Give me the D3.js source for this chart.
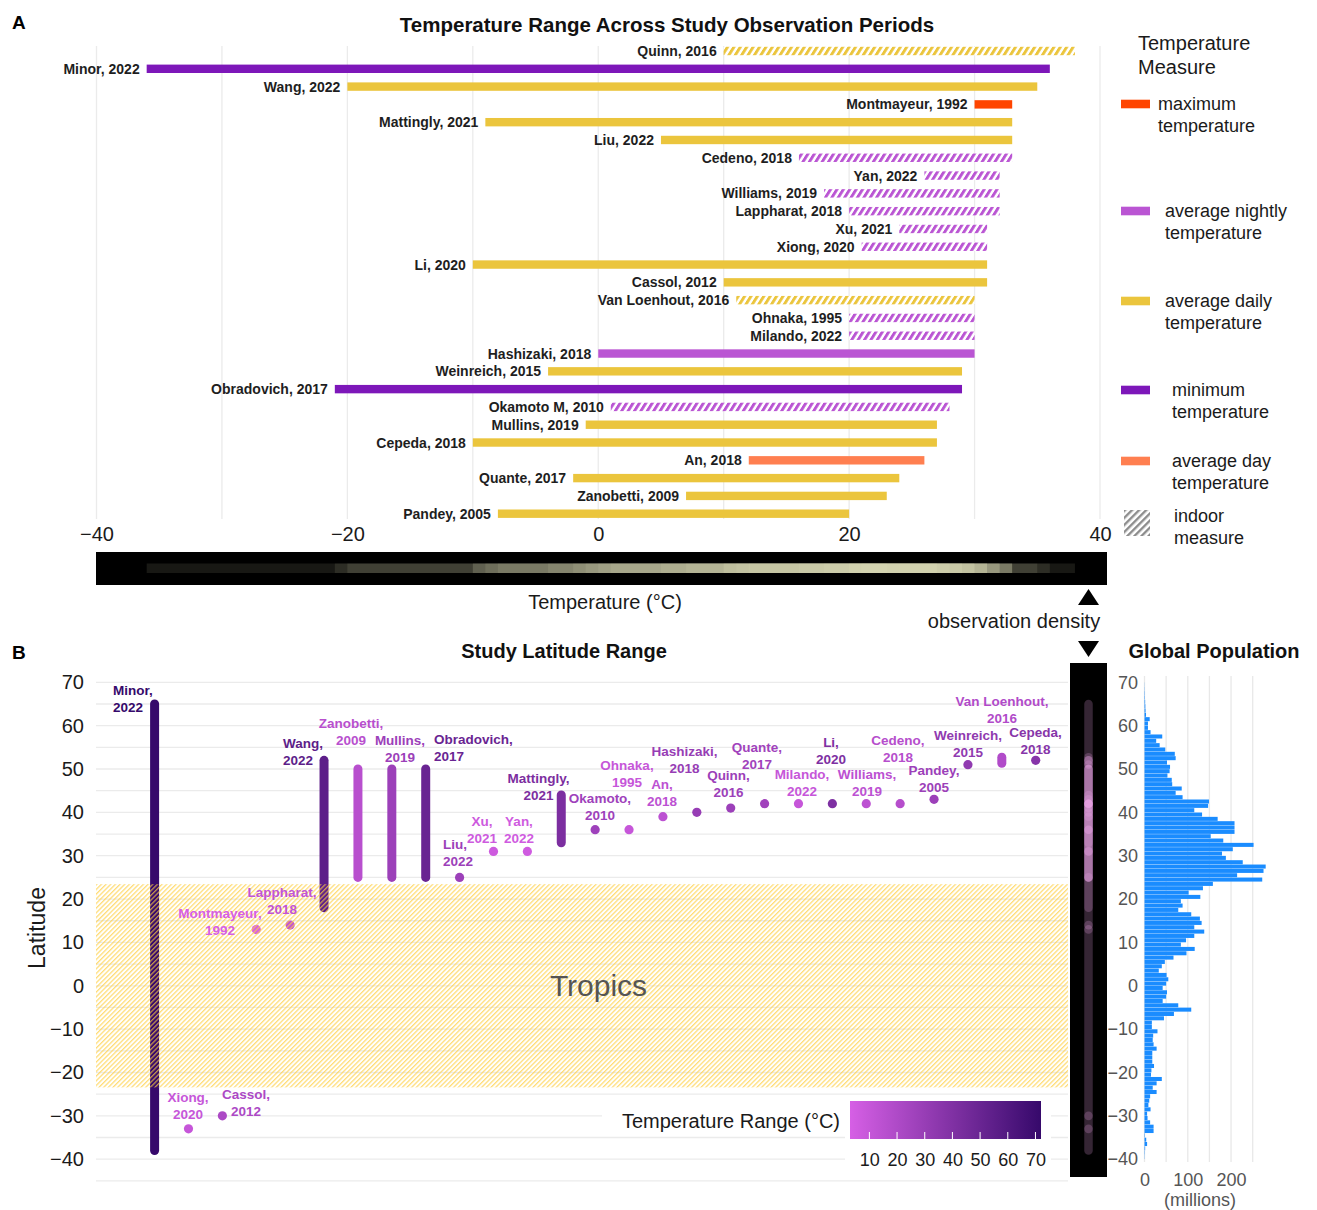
<!DOCTYPE html>
<html><head><meta charset="utf-8">
<script src="https://cdn.jsdelivr.net/npm/d3@7/dist/d3.min.js"></script>
<style>
html,body{margin:0;padding:0;background:#fff}
svg{display:block}
text{font-family:"Liberation Sans",Arial,Helvetica,sans-serif}
</style></head><body>
<svg id="chart" width="1317" height="1210"></svg>
<script>
// ---------------- DATA ----------------
const authors = ["Quinn","Minor","Wang","Montmayeur","Mattingly","Liu","Cedeno","Yan","Williams","Lappharat","Xu","Xiong","Li","Cassol","Van Loenhout","Ohnaka","Milando","Hashizaki","Weinreich","Obradovich","Okamoto M","Mullins","Cepeda","An","Quante","Zanobetti","Pandey"];
const years = [2016,2022,2022,1992,2021,2022,2018,2022,2019,2018,2021,2020,2020,2012,2016,1995,2022,2018,2015,2017,2010,2019,2018,2018,2017,2009,2005];
const tempMin = [10,-36,-20,30,-9,5,16,26,18,20,24,21,-10,10,11,20,20,0,-4,-21,1,-1,-10,12,-2,7,-8];
const tempMax = [38,36,35,33,33,33,33,32,32,32,31,31,31,31,30,30,30,30,29,29,28,27,27,26,24,23,20];
const measure = ["daily","minimum","daily","maximum","daily","daily","nightly","nightly","nightly","nightly","nightly","nightly","daily","daily","daily","nightly","nightly","nightly","daily","minimum","nightly","daily","daily","day","daily","daily","daily"];
const indoor = [true,false,false,false,false,false,true,true,true,true,true,true,false,false,true,true,true,false,false,false,true,false,false,false,false,false,false];
const latMin = [41,-38,18,13,33,25,42,31,42,14,31,-33,42,-30,51.3,36,42,40,51,25,36,25,52,39,42,25,43];
const latMax = [41,65,52,13,44,25,42,31,42,14,31,-33,42,-30,52.7,36,42,40,51,50,36,50,52,39,42,50,43];
const latOrder = ["Minor","Xiong","Cassol","Montmayeur","Lappharat","Wang","Zanobetti","Mullins","Obradovich","Liu","Xu","Yan","Mattingly","Okamoto M","Ohnaka","An","Hashizaki","Quinn","Quante","Milando","Li","Williams","Cedeno","Pandey","Weinreich","Van Loenhout","Cepeda"];
const measureKeys = ["maximum","nightly","daily","minimum","day"];
const measureNames = [["maximum","temperature"],["average nightly","temperature"],["average daily","temperature"],["minimum","temperature"],["average day","temperature"]];
const tempTicks = [-40,-20,0,20,40];
const tempGrid = [-40,-30,-20,-10,0,10,20,30,40];
const latTicks = [70,60,50,40,30,20,10,0,-10,-20,-30,-40];
const rangeTicks = [10,20,30,40,50,60,70];
const popTicks = [0,100,200];
const popGrid = [0,50,100,150,200,250];
const popLat = [69,68,67,66,65,64,63,62,61,60,59,58,57,56,55,54,53,52,51,50,49,48,47,46,45,44,43,42,41,40,39,38,37,36,35,34,33,32,31,30,29,28,27,26,25,24,23,22,21,20,19,18,17,16,15,14,13,12,11,10,9,8,7,6,5,4,3,2,1,0,-1,-2,-3,-4,-5,-6,-7,-8,-9,-10,-11,-12,-13,-14,-15,-16,-17,-18,-19,-20,-21,-22,-23,-24,-25,-26,-27,-28,-29,-30,-31,-32,-33,-34,-35,-36,-37,-38,-39,-40];
const popMillions = [0.3,0.5,0.8,1,1.5,2,2.5,3.5,12,8,8,14,41,27,35,48,70,72,52,59,58,53,63,64,86,72,88,149,147,115,133,169,208,208,208,153,182,252,204,179,188,227,280,275,214,272,158,135,102,129,84,88,78,108,128,132,115,138,115,96,84,116,97,67,47,40,33,51,55,50,42,52,50,42,78,108,68,45,17,17,30,20,19,21,28,18,18,18,22,16,15,40,28,19,28,13,11,9,14,6,7,13,21,21,1,4,6,1.5,0.8,0.5];

// ---------------- STYLE / LAYOUT ----------------
const colors = {maximum:"#ff4500",nightly:"#ba55d3",daily:"#ebc53d",minimum:"#7d17b9",day:"#ff7f50"};
const labB = {
 "Minor":[113,690,"start"],"Xiong":[188,1097,"middle"],"Cassol":[246,1094,"middle"],
 "Montmayeur":[220,912.5,"middle"],"Lappharat":[282,891.5,"middle"],"Wang":[283,742.5,"start"],
 "Zanobetti":[351,722.5,"middle"],"Mullins":[400,739.5,"middle"],"Obradovich":[434,739,"start"],
 "Liu":[443,843.5,"start"],"Xu":[482,821,"middle"],"Yan":[519,821,"middle"],
 "Mattingly":[538.5,777.5,"middle"],"Okamoto M":[600,797.5,"middle"],"Ohnaka":[627,765,"middle"],
 "An":[662,784,"middle"],"Hashizaki":[684.5,750.5,"middle"],"Quinn":[728.5,775,"middle"],
 "Quante":[757,746.5,"middle"],"Milando":[802,773.5,"middle"],"Li":[831,741.5,"middle"],
 "Williams":[867,773.5,"middle"],"Cedeno":[898,739.5,"middle"],"Pandey":[934,770,"middle"],
 "Weinreich":[968,734.5,"middle"],"Van Loenhout":[1002,701,"middle"],"Cepeda":[1035.6,731.5,"middle"]
};
const fmt = d => d < 0 ? "\u2212" + Math.abs(d) : String(d);

const rows = authors.map((a,i)=>({a, year:years[i], label:a+", "+years[i], min:tempMin[i], max:tempMax[i],
  m:measure[i], indoor:indoor[i], lmin:latMin[i], lmax:latMax[i], range:tempMax[i]-tempMin[i]}));
const byName = new Map(rows.map(r=>[r.a,r]));

const svg = d3.select("#chart");
const defs = svg.append("defs");
function hatch(id,color,period,stripe,transform){
  const p = defs.append("pattern").attr("id",id).attr("patternUnits","userSpaceOnUse")
    .attr("width",period).attr("height",40).attr("patternTransform",transform);
  p.append("rect").attr("width",period).attr("height",40).attr("fill","#fff");
  p.append("rect").attr("width",stripe).attr("height",40).attr("fill",color);
}
measureKeys.forEach(k=>hatch("h-"+k,colors[k],6.4,3.4,"skewX(-32)"));
hatch("h-legend","#8c8c8c",5,2.4,"rotate(45)");
(function(){
  const p = defs.append("pattern").attr("id","h-tropics").attr("patternUnits","userSpaceOnUse")
    .attr("width",3.3).attr("height",40).attr("patternTransform","rotate(45)");
  p.append("rect").attr("width",1.3).attr("height",40).attr("fill","#ffcf40").attr("opacity",0.7);
})();

// ---------------- PANEL A ----------------
svg.append("text").attr("x",12).attr("y",29).attr("font-size",19).attr("font-weight","bold").text("A");
svg.append("text").attr("x",667).attr("y",32).attr("text-anchor","middle").attr("font-size",20.5).attr("font-weight","bold").attr("fill","#111")
  .text("Temperature Range Across Study Observation Periods");

const xA = d3.scaleLinear().domain([-40,40]).range([96.5,1100]);
const yA = d3.scalePoint().domain(authors).range([51,513.7]);

svg.append("g").selectAll("line").data(tempGrid).join("line")
  .attr("x1",d=>xA(d)).attr("x2",d=>xA(d)).attr("y1",46).attr("y2",519)
  .attr("stroke","#ebebeb").attr("stroke-width",1.3);

const gA = svg.append("g");
gA.selectAll("rect").data(rows).join("rect")
  .attr("x",d=>xA(d.min)).attr("y",d=>yA(d.a)-4.2)
  .attr("width",d=>xA(d.max)-xA(d.min)).attr("height",8.4)
  .attr("fill",d=>d.indoor?`url(#h-${d.m})`:colors[d.m]);
gA.selectAll("text").data(rows).join("text")
  .attr("x",d=>xA(d.min)-7).attr("y",d=>yA(d.a)+5).attr("text-anchor","end")
  .attr("font-size",14).attr("font-weight","bold").attr("fill","#1e1e1e").text(d=>d.label);

const axA = svg.append("g").attr("transform","translate(0,527)")
  .call(d3.axisBottom(xA).tickValues(tempTicks).tickSize(0).tickPadding(0).tickFormat(fmt));
axA.select(".domain").remove();
axA.selectAll("text").attr("font-size",20).attr("fill","#1a1a1a").attr("font-family",'"Liberation Sans",Arial,sans-serif');

// density strip (overlapping translucent study ranges)
svg.append("rect").attr("x",96).attr("y",552).attr("width",1011).attr("height",33).attr("fill","#000");
svg.append("g").selectAll("rect").data(rows).join("rect")
  .attr("x",d=>xA(d.min)).attr("width",d=>xA(d.max)-xA(d.min)).attr("y",563.5).attr("height",9.5)
  .attr("fill","#e9edc9").attr("opacity",0.1);
svg.append("text").attr("x",605).attr("y",609).attr("text-anchor","middle").attr("font-size",20).attr("fill","#1a1a1a").text("Temperature (\u00b0C)");
svg.append("path").attr("d","M1078,605 L1099,605 L1088.5,589 Z").attr("fill","#000");
svg.append("text").attr("x",1014).attr("y",628).attr("text-anchor","middle").attr("font-size",20).attr("fill","#1a1a1a").text("observation density");
svg.append("path").attr("d","M1078,641 L1099,641 L1088.5,657 Z").attr("fill","#000");

// legend A
svg.append("text").attr("x",1138).attr("y",50).attr("font-size",20).attr("fill","#1a1a1a").text("Temperature");
svg.append("text").attr("x",1138).attr("y",74).attr("font-size",20).attr("fill","#1a1a1a").text("Measure");
const legY = [104,211,301,390,461];
const legTX = [1158,1165,1165,1172,1172];
measureKeys.forEach((k,i)=>{
  svg.append("rect").attr("x",1121).attr("y",legY[i]-4.3).attr("width",29).attr("height",8.6).attr("fill",colors[k]);
  measureNames[i].forEach((t,j)=>svg.append("text").attr("x",legTX[i]).attr("y",legY[i]+6+j*22)
    .attr("font-size",18).attr("fill","#1a1a1a").text(t));
});
svg.append("rect").attr("x",1124).attr("y",510).attr("width",26).attr("height",26).attr("fill","url(#h-legend)");
svg.append("text").attr("x",1174).attr("y",522).attr("font-size",18).attr("fill","#1a1a1a").text("indoor");
svg.append("text").attr("x",1174).attr("y",544).attr("font-size",18).attr("fill","#1a1a1a").text("measure");

// ---------------- PANEL B ----------------
svg.append("text").attr("x",12).attr("y",659).attr("font-size",19).attr("font-weight","bold").text("B");
svg.append("text").attr("x",564).attr("y",658).attr("text-anchor","middle").attr("font-size",20).attr("font-weight","bold").attr("fill","#111").text("Study Latitude Range");

const xB = d3.scalePoint().domain(latOrder).range([154.6,1035.7]);
const yB = d3.scaleLinear().domain([-40,70]).range([1159.2,682.3]);
const cB = d3.scaleLinear().domain([3,72]).range(["#d65fe5","#36096b"]);
const rowsB = latOrder.map(n=>byName.get(n));

svg.append("g").selectAll("line").data(d3.range(-45,71,5)).join("line")
  .attr("x1",96).attr("x2",1068).attr("y1",d=>yB(d)).attr("y2",d=>yB(d))
  .attr("stroke","#ebebeb").attr("stroke-width",1.3);

const axB = svg.append("g").attr("transform","translate(84,0)")
  .call(d3.axisLeft(yB).tickValues(latTicks).tickSize(0).tickPadding(0).tickFormat(fmt));
axB.select(".domain").remove();
axB.selectAll("text").attr("font-size",20).attr("fill","#1a1a1a").attr("font-family",'"Liberation Sans",Arial,sans-serif');
svg.append("text").attr("transform","translate(45,928) rotate(-90)").attr("text-anchor","middle").attr("font-size",23).attr("fill","#1a1a1a").text("Latitude");

const gB = svg.append("g");
gB.selectAll("line").data(rowsB.filter(d=>d.lmin!==d.lmax)).join("line")
  .attr("x1",d=>xB(d.a)).attr("x2",d=>xB(d.a)).attr("y1",d=>yB(d.lmin)).attr("y2",d=>yB(d.lmax))
  .attr("stroke",d=>cB(d.range)).attr("stroke-width",9).attr("stroke-linecap","round");
gB.selectAll("circle").data(rowsB.filter(d=>d.lmin===d.lmax)).join("circle")
  .attr("cx",d=>xB(d.a)).attr("cy",d=>yB(d.lmin)).attr("r",4.6).attr("fill",d=>cB(d.range));

// tropics band
svg.append("rect").attr("x",96).attr("y",yB(23.44)).attr("width",972).attr("height",yB(-23.44)-yB(23.44)).attr("fill","url(#h-tropics)");
svg.append("text").attr("x",598.5).attr("y",996).attr("text-anchor","middle").attr("font-size",30).attr("fill","#555").text("Tropics");

// labels
const gL = svg.append("g");
rowsB.forEach(d=>{
  const L = labB[d.a];
  const nm = d.a.replace(/ M$/,"");
  const t = gL.append("text").attr("x",L[0]).attr("y",L[1]+5).attr("text-anchor",L[2])
    .attr("font-size",13.5).attr("font-weight","bold").attr("fill",cB(d.range));
  t.append("tspan").attr("x",L[0]).text(nm+",");
  t.append("tspan").attr("x",L[0]).attr("dy",17).text(d.year);
});

// colour bar legend
svg.append("rect").attr("x",602).attr("y",1101).attr("width",244).attr("height",33).attr("fill","#fff");
svg.append("rect").attr("x",845).attr("y",1096).attr("width",206).attr("height",80).attr("fill","#fff");
svg.append("text").attr("x",840).attr("y",1128).attr("text-anchor","end").attr("font-size",20).attr("fill","#1a1a1a").text("Temperature Range (\u00b0C)");
const cbX = d3.scaleLinear().domain([3,72]).range([850,1041]);
const grad = defs.append("linearGradient").attr("id","cbgrad");
[0,0.25,0.5,0.75,1].forEach(f=>grad.append("stop").attr("offset",f).attr("stop-color",cB(3+69*f)));
svg.append("rect").attr("x",850).attr("y",1101).attr("width",191).attr("height",38).attr("fill","url(#cbgrad)");
svg.append("g").selectAll("line").data(rangeTicks).join("line")
  .attr("x1",d=>cbX(d)).attr("x2",d=>cbX(d)).attr("y1",1132).attr("y2",1139).attr("stroke","#fff").attr("stroke-width",1);
const axC = svg.append("g").attr("transform","translate(0,1153)")
  .call(d3.axisBottom(cbX).tickValues(rangeTicks).tickSize(0).tickPadding(0));
axC.select(".domain").remove();
axC.selectAll("text").attr("font-size",18).attr("fill","#1a1a1a").attr("font-family",'"Liberation Sans",Arial,sans-serif');

// latitude density strip
svg.append("rect").attr("x",1070).attr("y",663).attr("width",37).attr("height",514).attr("fill","#000");
const gS = svg.append("g");
gS.selectAll("line").data(rowsB.filter(d=>d.lmin!==d.lmax)).join("line")
  .attr("x1",1088.5).attr("x2",1088.5).attr("y1",d=>yB(d.lmin)).attr("y2",d=>yB(d.lmax))
  .attr("stroke","#f0a8ee").attr("stroke-opacity",0.22).attr("stroke-width",8.5).attr("stroke-linecap","round");
gS.selectAll("circle").data(rowsB.filter(d=>d.lmin===d.lmax)).join("circle")
  .attr("cx",1088.5).attr("cy",d=>yB(d.lmin)).attr("r",4.3).attr("fill","#f0a8ee").attr("fill-opacity",0.22);

// ---------------- GLOBAL POPULATION ----------------
svg.append("text").attr("x",1214).attr("y",658).attr("text-anchor","middle").attr("font-size",20).attr("font-weight","bold").attr("fill","#111").text("Global Population");
const xH = d3.scaleLinear().domain([0,250]).range([1144.5,1252.7]);
svg.append("g").selectAll("line").data(popGrid).join("line")
  .attr("x1",d=>xH(d)).attr("x2",d=>xH(d)).attr("y1",676).attr("y2",1162)
  .attr("stroke","#e8e8e8").attr("stroke-width",1.3);
svg.append("g").selectAll("rect").data(popLat.map((l,i)=>({l,v:popMillions[i]}))).join("rect")
  .attr("x",xH(0)).attr("y",d=>yB(d.l+1)+0.15).attr("height",d=>yB(d.l)-yB(d.l+1)-0.3)
  .attr("width",d=>xH(d.v)-xH(0)).attr("fill","#1a8cff");
const axH = svg.append("g").attr("transform","translate(1138,0)")
  .call(d3.axisLeft(yB).tickValues(latTicks).tickSize(0).tickPadding(0).tickFormat(fmt));
axH.select(".domain").remove();
axH.selectAll("text").attr("font-size",18).attr("fill","#555").attr("font-family",'"Liberation Sans",Arial,sans-serif');
const axHx = svg.append("g").attr("transform","translate(0,1173)")
  .call(d3.axisBottom(xH).tickValues(popTicks).tickSize(0).tickPadding(0));
axHx.select(".domain").remove();
axHx.selectAll("text").attr("font-size",18).attr("fill","#555").attr("font-family",'"Liberation Sans",Arial,sans-serif');
svg.append("text").attr("x",1200).attr("y",1206).attr("text-anchor","middle").attr("font-size",18).attr("fill","#555").text("(millions)");
</script>
</body></html>
